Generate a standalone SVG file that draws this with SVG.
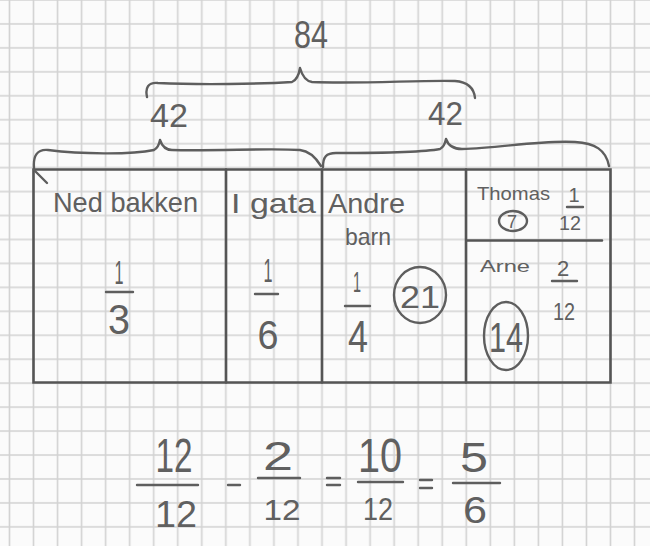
<svg xmlns="http://www.w3.org/2000/svg" width="650" height="546" viewBox="0 0 650 546">
<defs>
<pattern id="grid" patternUnits="userSpaceOnUse" x="-2.5" y="-12" width="24.04" height="23.95">
<path d="M12,0V23.95M0,12H24.04" stroke="#d2d2d2" stroke-width="1.6" fill="none"/>
</pattern>
<style>
.pen{fill:none;stroke:#5e5e5e;stroke-width:2.4;stroke-linecap:round;stroke-linejoin:round}
.box{fill:none;stroke:#555;stroke-width:2.6;stroke-linecap:round}
.t{font-family:"Liberation Sans",Arial,sans-serif;fill:#606060}
.m{text-anchor:middle}
</style>
</defs>
<rect width="650" height="546" fill="#fbfbfb"/>
<rect width="650" height="546" fill="url(#grid)"/>

<g id="braces">
<path class="pen" d="M147,97 C145,88 148,82 158,83 C200,85 260,84 292,82 C297,80 299,74 300,68 C302,75 305,81 312,82 C360,84 420,80 455,81 C468,82 474,88 475,98"/>
<path class="pen" d="M34,168 C33,156 37,149 48,150 C80,154 130,155 154,150 C158,148 159,145 160,140 C162,146 165,150 172,150 C220,151 270,148 300,150 C310,151 316,158 321,166"/>
<path class="pen" d="M323,167 C323,157 326,153 336,153 C370,153 420,153 440,149 C444,147 445,144 446,139 C448,145 452,149 462,149 C500,148 540,140 575,142 C595,143 606,150 609,166"/>
<text class="t m" x="311" y="48" font-size="38" textLength="34" lengthAdjust="spacingAndGlyphs">84</text>
<text class="t" x="150" y="127" font-size="34" textLength="38" lengthAdjust="spacingAndGlyphs">42</text>
<text class="t" x="428" y="125" font-size="34" textLength="35" lengthAdjust="spacingAndGlyphs">42</text>
</g>

<g id="box">
<path class="box" d="M33.5,169.5H610.5V382.5H33.5Z"/>
<path class="box" d="M226,169.5V382.5M322,169.5V382.5M466,169.5V382.5M467,240.5H602"/>
<path class="pen" d="M34,170 L47,183" stroke-width="1.5"/>
</g>

<g id="cell-ned">
<text class="t" x="53" y="212" font-size="28" textLength="145" lengthAdjust="spacingAndGlyphs">Ned bakken</text>
<text class="t m" x="119" y="284" font-size="33" textLength="9" lengthAdjust="spacingAndGlyphs">1</text>
<path class="pen" d="M106,292H133"/>
<text class="t m" x="119" y="334" font-size="42" textLength="22" lengthAdjust="spacingAndGlyphs">3</text>
</g>

<g id="cell-gata">
<text class="t" x="231" y="213" font-size="28" textLength="85" lengthAdjust="spacingAndGlyphs">I gata</text>
<text class="t m" x="268" y="282" font-size="33" textLength="9" lengthAdjust="spacingAndGlyphs">1</text>
<path class="pen" d="M255,294H278"/>
<text class="t m" x="268" y="349" font-size="40" textLength="21" lengthAdjust="spacingAndGlyphs">6</text>
</g>

<g id="cell-andre">
<text class="t" x="328" y="213" font-size="28" textLength="77" lengthAdjust="spacingAndGlyphs">Andre</text>
<text class="t" x="345" y="245" font-size="24" textLength="46" lengthAdjust="spacingAndGlyphs">barn</text>
<text class="t m" x="357" y="292" font-size="30" textLength="8" lengthAdjust="spacingAndGlyphs">1</text>
<path class="pen" d="M345,306H370"/>
<text class="t m" x="358" y="352" font-size="44" textLength="20" lengthAdjust="spacingAndGlyphs">4</text>
<ellipse class="pen" cx="420" cy="295" rx="26" ry="28"/>
<text class="t m" x="420" y="308" font-size="32" textLength="40" lengthAdjust="spacingAndGlyphs">21</text>
</g>

<g id="cell-thomas">
<text class="t" x="477" y="200" font-size="19" textLength="73" lengthAdjust="spacingAndGlyphs">Thomas</text>
<text class="t m" x="574" y="202" font-size="20">1</text>
<path class="pen" d="M567,207H583" stroke-width="1.8"/>
<text class="t m" x="570" y="230" font-size="20" textLength="22" lengthAdjust="spacingAndGlyphs">12</text>
<ellipse class="pen" cx="513" cy="221" rx="14" ry="10" stroke-width="2"/>
<text class="t m" x="512" y="228" font-size="18">7</text>
</g>

<g id="cell-arne">
<text class="t" x="480" y="272" font-size="17" textLength="50" lengthAdjust="spacingAndGlyphs">Arne</text>
<text class="t m" x="563" y="276" font-size="22">2</text>
<path class="pen" d="M552,281H577" stroke-width="3"/>
<text class="t m" x="564" y="320" font-size="24" textLength="22" lengthAdjust="spacingAndGlyphs">12</text>
<ellipse class="pen" cx="506" cy="336" rx="22" ry="34"/>
<text class="t m" x="506" y="352" font-size="42" textLength="34" lengthAdjust="spacingAndGlyphs">14</text>
</g>

<g id="equation">
<text class="t m" x="174" y="472" font-size="48" textLength="37" lengthAdjust="spacingAndGlyphs">12</text>
<path class="pen" d="M137,485H198"/>
<text class="t m" x="176" y="527" font-size="36" textLength="42" lengthAdjust="spacingAndGlyphs">12</text>
<path class="pen" d="M228,485H240"/>
<text class="t m" x="278" y="470" font-size="40" textLength="30" lengthAdjust="spacingAndGlyphs">2</text>
<path class="pen" d="M258,478H300"/>
<text class="t m" x="282" y="520" font-size="30" textLength="37" lengthAdjust="spacingAndGlyphs">12</text>
<path class="pen" d="M327,478H340M327,485H340"/>
<text class="t m" x="380" y="472" font-size="48" textLength="44" lengthAdjust="spacingAndGlyphs">10</text>
<path class="pen" d="M358,482H403" stroke-width="3"/>
<text class="t m" x="378" y="520" font-size="32" textLength="30" lengthAdjust="spacingAndGlyphs">12</text>
<path class="pen" d="M420,480H432M420,488H432"/>
<text class="t m" x="474" y="472" font-size="42" textLength="28" lengthAdjust="spacingAndGlyphs">5</text>
<path class="pen" d="M453,483H500"/>
<text class="t m" x="475" y="523" font-size="36" textLength="24" lengthAdjust="spacingAndGlyphs">6</text>
</g>
</svg>
